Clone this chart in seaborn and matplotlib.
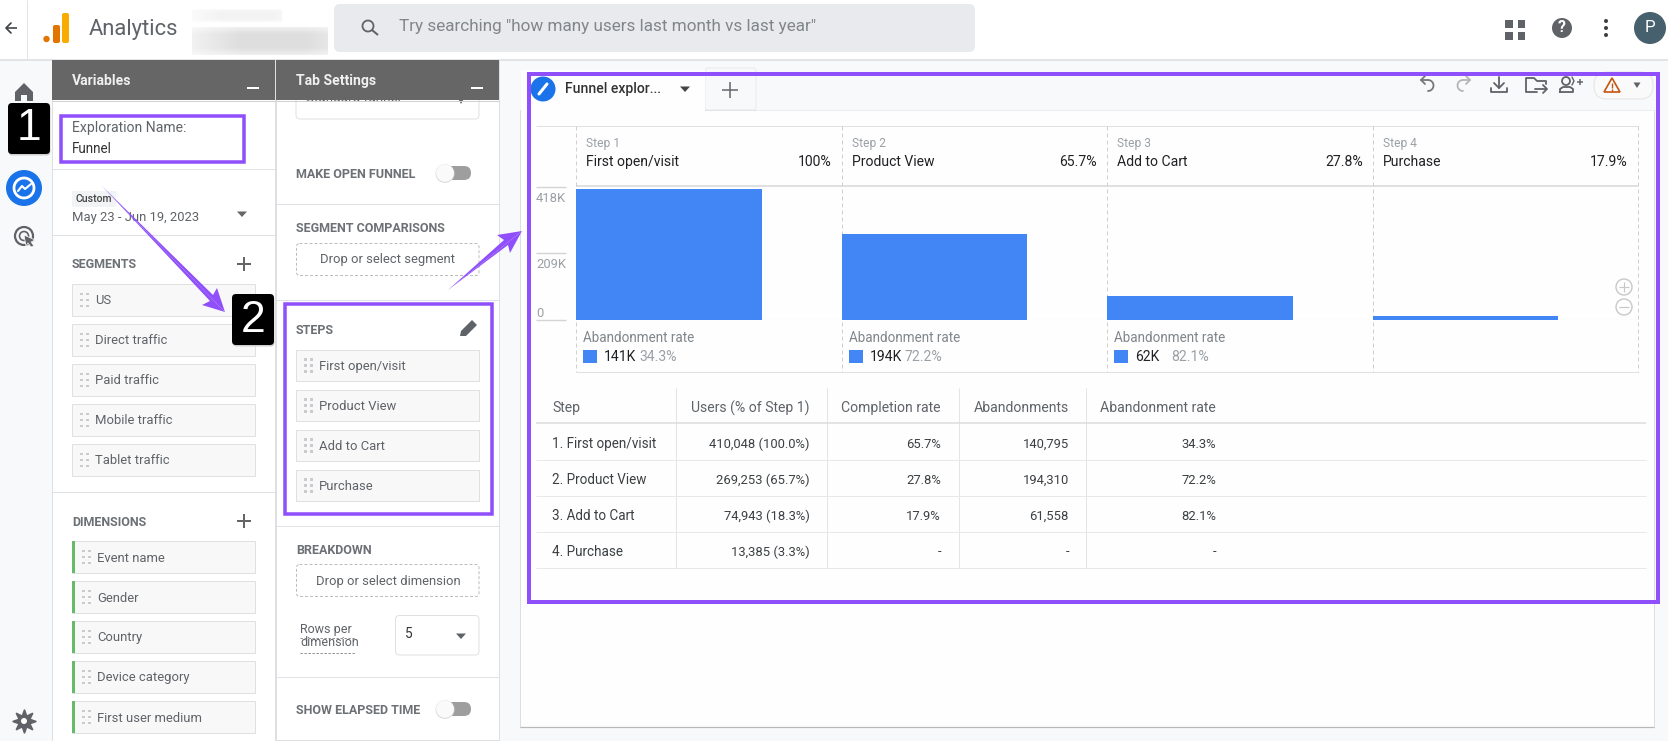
import numpy as np
import pandas as pd
import matplotlib
matplotlib.use('Agg')
import matplotlib.pyplot as plt
from matplotlib.patches import FancyBboxPatch, Circle, Polygon, Rectangle
from matplotlib.transforms import ScaledTranslation
import seaborn as sns

# funnel data
step_ids = ['Step 1', 'Step 2', 'Step 3', 'Step 4']
step_names = ['First open/visit', 'Product View', 'Add to Cart', 'Purchase']
step_users = [410048, 269253, 74943, 13385]
step_pcts = ['100%', '65.7%', '27.8%', '17.9%']
drop_counts = ['141K', '194K', '62K']
drop_rates = ['34.3%', '72.2%', '82.1%']
y_ticks = [0, 209000, 418000]
y_tick_labels = ['0', '209K', '418K']

# table underneath the chart
table_headers = ['Step', 'Users (% of Step 1)', 'Completion rate', 'Abandonments', 'Abandonment rate']
table_steps = ['1. First open/visit', '2. Product View', '3. Add to Cart', '4. Purchase']
table_users = ['410,048 (100.0%)', '269,253 (65.7%)', '74,943 (18.3%)', '13,385 (3.3%)']
table_completion = ['65.7%', '27.8%', '17.9%', '-']
table_abandons = ['140,795', '194,310', '61,558', '-']
table_rates = ['34.3%', '72.2%', '82.1%', '-']

# side panels
segments = ['US', 'Direct traffic', 'Paid traffic', 'Mobile traffic', 'Tablet traffic']
dimensions = ['Event name', 'Gender', 'Country', 'Device category', 'First user medium']

BLUE = '#4285f4'
PURPLE = '#8f4ffb'
LINE = '#e0e2e5'
GREY = '#5f6368'
HEAD = '#6d7175'

sns.set_theme(style='white')
plt.rcParams['font.family'] = ['Roboto', 'DejaVu Sans']

W, H = 1668, 741
fig = plt.figure(figsize=(W / 100, H / 100), dpi=100, facecolor='white')
ui = fig.add_axes([0, 0, 1, 1], zorder=0)
ui.set_xlim(0, W)
ui.set_ylim(H, 0)
ui.axis('off')


def box(x0, y0, x1, y1, fc='none', ec='none', lw=1, r=0, ls='-', z=1):
    if r:
        p = FancyBboxPatch((x0, y0), x1 - x0, y1 - y0, boxstyle=f'round,pad=0,rounding_size={r}',
                           fc=fc, ec=ec, lw=lw * 0.72, ls=ls, zorder=z)
    else:
        p = Rectangle((x0, y0), x1 - x0, y1 - y0, fc=fc, ec=ec, lw=lw * 0.72, ls=ls, zorder=z)
    ui.add_patch(p)


def line(xs, ys, c=LINE, lw=1, ls='-', z=2):
    ui.plot(xs, ys, color=c, lw=lw * 0.72, ls=ls, zorder=z, solid_capstyle='butt')


def txt(x, y, s, size=13, c=GREY, ha='left', weight='normal', z=5):
    ui.text(x, y + 1, s, fontsize=size * 0.72, color=c, ha=ha, va='center', fontweight=weight, zorder=z)


def tri(x, y, c='#666666', s=5, z=5):
    ui.add_patch(Polygon([(x - s, y - 2.5), (x + s, y - 2.5), (x, y + 3)], fc=c, ec='none', zorder=z))


def plus(x, y, c='#666666', s=7, lw=2, z=5):
    line([x - s, x + s], [y, y], c, lw, z=z)
    line([x, x], [y - s, y + s], c, lw, z=z)


def grip(x, y):
    for dx in (0, 6):
        for dy in (-6, 0, 6):
            ui.add_patch(Rectangle((x + dx, y + dy - 1.2), 2.6, 2.6, fc='#c9cbce', ec='none', zorder=4))


def toggle(y):
    box(440, y - 7, 471, y + 7, fc='#9e9e9e', r=7, z=3)
    ui.add_patch(Circle((445, y + 0.5), 9.5, fc='#dddddd', ec='none', zorder=3.5))
    ui.add_patch(Circle((445, y), 8.8, fc='#fafafa', ec='none', zorder=4))


def smudge(x0, y0, x1, y1, peak):
    # soft grey patch for the redacted account name
    yy, xx = np.mgrid[0:1:30j, 0:1:80j]
    img = 1 - (1 - peak) * np.clip(1.4 - abs(xx - 0.6) * 1.6, 0, 1) * np.clip(1.5 - abs(yy - 0.5) * 2, 0, 1)
    ui.imshow(img, extent=(x0, x1, y1, y0), cmap='gray', vmin=0, vmax=1, aspect='auto',
              interpolation='bilinear', zorder=1)


def curl(cx, sign, c):
    # undo / redo glyph
    t = np.linspace(-np.pi / 2, np.pi / 2, 20)
    ui.plot(cx + sign * (1 + 5.5 * np.cos(t)), 85.5 + 5.5 * np.sin(t), color=c, lw=1.3, zorder=3)
    ui.plot([cx - sign * 6, cx + sign], [80, 80], color=c, lw=1.3, zorder=3)
    ui.plot([cx - sign * 2, cx - sign * 6, cx - sign * 2], [76, 80, 84], color=c, lw=1.3, zorder=3)


# backgrounds
box(0, 60, 52, H, fc='#f8f9fa')
box(500, 60, W, H, fc='#f8f9fa')
box(520.5, 110, 1654, 726.5, fc='#fefefe', ec='#dedede', z=1)
line([520, 1654], [727, 727], '#b8b8b8', 1.2, z=1.1)
box(521, 70, 705, 112, fc='#fefefe', z=1.5)
box(705, 68, 756, 110, fc='#f8f9fa', ec='#e8eaed', r=3, z=1.2)
line([756, 1654], [110, 110], '#eceef0', 1, z=1.3)

# top bar
line([0, W], [59.5, 59.5], '#dadce0', 1.5)
line([27.5, 27.5], [0, 59], '#e4e5e7', 1)
line([6, 17], [28, 28], '#3c4043', 1.6)
ui.plot([11, 6, 11], [23, 28, 33], color='#3c4043', lw=1.2, zorder=3)
ui.add_patch(Circle((46.5, 39), 3.2, fc='#e37400', ec='none', zorder=3))
box(53, 25, 60, 43, fc='#e37400', r=2, z=3)
box(62, 13, 69, 43, fc='#f9ab00', r=2, z=3)
txt(89, 28, 'Analytics', 22, GREY)
smudge(192, 9, 282, 22, 0.95)
smudge(192, 27, 328, 55, 0.87)
box(334, 4, 975, 52, fc='#e8eaed', r=6)
ui.add_patch(Circle((368, 26), 5.5, fc='none', ec=GREY, lw=1.3, zorder=3))
line([372, 378], [30, 35], GREY, 2, z=3)
txt(399, 26, 'Try searching "how many users last month vs last year"', 17.1, '#80868b')

for gx in (1505.5, 1518):
    for gy in (20, 32):
        box(gx, gy, gx + 7.5, gy + 7.5, fc='#5f6368', z=3)
ui.add_patch(Circle((1562, 28), 10, fc='#5f6368', ec='none', zorder=3))
txt(1562, 27, '?', 16, 'white', ha='center', weight='bold')
for dy in (-7, 0, 7):
    ui.add_patch(Circle((1606, 28 + dy), 2, fc='#3c4043', ec='none', zorder=3))
ui.add_patch(Circle((1650, 28), 16, fc='#46606e', ec='none', zorder=3))
txt(1650, 27, 'P', 17, 'white', ha='center')

# left rail icons
ui.add_patch(Polygon([(15, 92), (24, 83), (33, 92), (33, 101), (27, 101), (27, 95), (21, 95), (21, 101), (15, 101)],
                     fc='#5f6368', ec='none', zorder=3))
ui.add_patch(Circle((24, 188), 18, fc='#1a73e8', ec='none', zorder=3))
ui.add_patch(Circle((24, 188), 10, fc='none', ec='white', lw=2, zorder=4))
ui.plot([18, 22, 25, 31], [191, 186, 189, 184], color='white', lw=1.5, zorder=4)
ui.add_patch(Circle((24, 236), 9, fc='none', ec=GREY, lw=1.6, zorder=3))
ui.add_patch(Circle((24, 236), 4.5, fc='none', ec=GREY, lw=1.2, zorder=3))
ui.add_patch(Polygon([(24, 235), (35, 240), (31, 242), (34, 246), (31, 247), (28, 243), (26, 246)],
                     fc=GREY, ec='white', lw=0.5, zorder=4))
ui.plot([24], [721], marker=(8, 1, 0), ms=17, color=GREY, zorder=3)
ui.add_patch(Circle((24, 721), 3, fc='white', ec='none', zorder=4))

# panels
box(52, 60, 275.5, H, fc='white', ec='#dddfe2')
box(276, 60, 499.5, H - 1, fc='white', ec='#dddfe2')
for x0, x1, title in [(52, 275, 'Variables'), (276, 499, 'Tab Settings')]:
    box(x0, 60, x1, 100, fc='#666666', z=4)
    line([x0, x1], [100.5, 100.5], '#d0d0d0', 1, z=4)
    txt(x0 + 20, 80, title, 14, '#f0f0f0', weight='bold', z=6)
    line([x1 - 28, x1 - 16], [88, 88], 'white', 2, z=6)

# variables panel
txt(72, 127, 'Exploration Name:', 14)
txt(72, 148, 'Funnel', 13.5, '#333333')
line([52, 275], [169, 169])
box(72, 191, 116, 207, fc='#f1f3f4')
txt(76, 198, 'Custom', 10.5, '#444444', weight='medium')
txt(72, 216, 'May 23 - Jun 19, 2023', 13)
tri(242, 214)
line([52, 275], [235, 235])
txt(72, 264, 'SEGMENTS', 12.5, HEAD, weight='bold')
plus(244, 264)
for i, name in enumerate(segments):
    top = 284 + 40 * i
    box(72.5, top, 255.5, top + 32, fc='#f8f8f8', ec='#e0e0e0')
    grip(80.5, top + 16)
    txt(95, top + 16, name, 13)
line([52, 275], [492, 492])
txt(72, 521, 'DIMENSIONS', 12.5, HEAD, weight='bold')
plus(244, 521)
for i, name in enumerate(dimensions):
    top = 541 + 40 * i
    box(72.5, top, 255.5, top + 32, fc='#f8f8f8', ec='#e0e0e0')
    box(72, top, 75, top + 32, fc='#66bb6a', z=3)
    grip(82.5, top + 16)
    txt(97, top + 16, name, 13)

# tab settings panel
box(296, 84, 479, 119, fc='white', ec='#e0e0e0', r=4, z=1.5)
txt(306, 97, 'Standard funnel', 13.5, z=2)
tri(461, 101, GREY, 3, z=2)
txt(296, 173, 'MAKE OPEN FUNNEL', 12.5, HEAD, weight='bold')
toggle(173)
line([276, 499], [204, 204])
txt(296, 228, 'SEGMENT COMPARISONS', 12.5, HEAD, weight='bold')
box(296.5, 243.5, 479, 275.5, ec='#bdbdbd', ls=(0, (3, 2)), r=3)
txt(388, 259, 'Drop or select segment', 13, ha='center')
line([276, 499], [300, 300])
txt(296, 329, 'STEPS', 12.5, HEAD, weight='bold')
ui.add_patch(Polygon([(460, 336), (461, 331), (472, 320), (477, 325), (466, 336)], fc=GREY, ec='none', zorder=4))
for i, name in enumerate(step_names):
    top = 349.5 + 40 * i
    box(296.5, top, 479, top + 31.5, fc='#f8f8f8', ec='#e0e0e0')
    grip(304.5, top + 16)
    txt(319, top + 16, name, 13)
line([276, 499], [525.5, 525.5])
txt(296, 549, 'BREAKDOWN', 12.5, HEAD, weight='bold')
box(296.5, 564.5, 479, 596.5, ec='#bdbdbd', ls=(0, (3, 2)), r=3)
txt(388, 580, 'Drop or select dimension', 13, ha='center')
txt(300, 628, 'Rows per', 12.5)
txt(300, 642, 'dimension', 12.5)
line([300, 355], [638, 638], '#777777', 0.8, (0, (3, 2)))
line([300, 355], [652.5, 652.5], '#777777', 0.8, (0, (3, 2)))
box(395.5, 615.5, 479, 655, fc='white', ec='#e0e0e0', r=4)
txt(405, 633, '5', 13.5, '#333333')
tri(461, 636, GREY)
line([276, 499], [677, 677])
txt(296, 709, 'SHOW ELAPSED TIME', 12.5, HEAD, weight='bold')
toggle(709)

# exploration tab strip
ui.add_patch(Circle((543, 89), 12.5, fc='#1a73e8', ec='none', zorder=3))
ui.plot([539, 547], [94, 84], color='white', lw=2.2, zorder=4)
txt(565, 88, 'Funnel explor...', 14, '#333333', weight='medium')
tri(685, 89, '#444444')
plus(730, 90, GREY, 8, 1.5)

# toolbar icons, drawn roughly
curl(1427, 1, '#777777')
curl(1464, -1, '#b5b5b5')
tool = '#5f6368'
ui.plot([1499, 1499], [77, 88], color=tool, lw=1.3, zorder=3)
ui.plot([1494, 1499, 1504], [83, 88, 83], color=tool, lw=1.3, zorder=3)
ui.plot([1491, 1491, 1507, 1507], [88, 92, 92, 88], color=tool, lw=1.3, zorder=3)
ui.plot([1546, 1546, 1537, 1534, 1526, 1526, 1537], [84, 81, 81, 78, 78, 92, 92], color=tool, lw=1.3, zorder=3)
ui.plot([1535, 1546], [89, 89], color=tool, lw=1.3, zorder=3)
ui.plot([1543, 1547, 1543], [85, 89, 93], color=tool, lw=1.3, zorder=3)
ui.add_patch(Circle((1566, 81), 4, fc='none', ec=tool, lw=1.3, zorder=3))
ui.plot([1560, 1560, 1563, 1570, 1573, 1573, 1560], [92, 89, 87, 87, 89, 92, 92], color=tool, lw=1.3, zorder=3)
ui.plot([1572, 1574, 1572], [77, 81, 85], color=tool, lw=1, zorder=3)
plus(1580, 82, tool, 3, 1.5)
box(1594, 72, 1653, 99, fc='#fafafa', ec='#e4e4e4', r=13)
ui.add_patch(Polygon([(1604, 92), (1612, 78), (1620, 92)], fc='none', ec='#c5540f', lw=1.2, zorder=4))
line([1612, 1612], [83, 88], '#c5540f', 1.4, z=4)
line([1612, 1612], [89, 91], '#c5540f', 1.4, z=4)
tri(1637, 85, GREY, 3.5)

# chart frame around the bars
frame_x = [576, 842, 1107, 1373, 1638]
line([536, 1638], [126, 126], '#e0e0e0', 1)
line([576, 1638], [186, 186], '#e0e0e0', 2)
line([576, 1638], [372, 372], '#e0e0e0', 1)
for x in frame_x:
    line([x, x], [126, 372], '#d0d0d0', 1, (0, (4, 3)))

for i in range(4):
    left, right = frame_x[i], frame_x[i + 1]
    txt(left + 10, 142, step_ids[i], 12, '#9aa0a6')
    txt(left + 10, 161, step_names[i], 14, '#202124')
    txt(right - 10, 161, step_pcts[i], 14, '#202124', ha='right')
for i in range(3):
    left = frame_x[i]
    txt(left + 7, 337, 'Abandonment rate', 13.5, '#80868b')
    box(left + 7, 349.5, left + 21, 363, fc=BLUE)
    txt(left + 28, 356, drop_counts[i], 14, '#202124')
    rate_x = left + (64 if i == 2 else 63)
    txt(rate_x, 356, drop_rates[i], 14, '#9aa0a6')

# zoom buttons
for cy, sign in [(287, 1), (307, 0)]:
    ui.add_patch(Circle((1624, cy), 8, fc='none', ec='#c8c8c8', lw=1, zorder=3))
    line([1619, 1629], [cy, cy], '#c8c8c8', 1.2, z=3)
    if sign:
        line([1624, 1624], [cy - 5, cy + 5], '#c8c8c8', 1.2, z=3)

# results table
col_lines = [676.5, 827, 959, 1086]
col_right = [810, 941, 1069, 1216]
row_y = [443, 479, 515, 551]
for x in col_lines:
    line([x, x], [388, 568], '#e4e4e4', 1)
line([536, 1646], [423, 423], '#dcdcdc', 1.5)
txt(552, 407, table_headers[0], 14, GREY)
for x, head in zip(col_right, table_headers[1:]):
    txt(x, 407, head, 14, GREY, ha='right')
for i, y in enumerate(row_y):
    line([536, 1646], [y + 17, y + 17], '#e8e8e8', 1)
    txt(552, y, table_steps[i], 13.5, '#3c4043')
    txt(col_right[0], y, table_users[i], 13, '#3c4043', ha='right')
    txt(col_right[1], y, table_completion[i], 13, '#3c4043', ha='right')
    txt(col_right[2], y, table_abandons[i], 13, '#3c4043', ha='right')
    txt(col_right[3], y, table_rates[i], 13, '#3c4043', ha='right')

# purple annotations
box(61.5, 116, 244, 161.5, ec=PURPLE, lw=3.5, z=8)
box(285, 304, 492, 514, ec=PURPLE, lw=3.5, z=8)
box(529, 74, 1658.5, 602, ec=PURPLE, lw=4, z=8)
ui.add_patch(Polygon([(101, 185), (225, 312), (202, 305), (210, 301), (102, 186)], fc=PURPLE, ec='none', zorder=9))
ui.add_patch(Polygon([(101, 185), (225, 312), (217, 288), (213, 295)], fc=PURPLE, ec='none', zorder=9))
ui.add_patch(Polygon([(448, 290), (522, 231), (497, 235), (504, 240)], fc=PURPLE, ec='none', zorder=9))
ui.add_patch(Polygon([(448, 290), (522, 231), (510, 253), (508, 245)], fc=PURPLE, ec='none', zorder=9))
for x0, y0, label in [(8, 103, '1'), (232, 294, '2')]:
    box(x0 + 0.5, y0 + 1.5, x0 + 42.5, y0 + 52.5, fc='#cfcfcf', r=4, z=9.5)
    box(x0, y0, x0 + 42, y0 + 51, fc='black', r=4, z=10)
    ui.text(x0 + 21, y0 + 26, label, fontsize=32, color='white', ha='center', va='center',
            family=['Liberation Sans', 'DejaVu Sans'], zorder=11)

# the funnel bars themselves
funnel = pd.DataFrame({'step': step_names, 'users': step_users})
ax = fig.add_axes([576 / W, 1 - 320 / H, (1638 - 576) / W, (320 - 186.7) / H], zorder=1)
ax.patch.set_visible(False)
sns.barplot(data=funnel, x='step', y='users', color=BLUE, saturation=1, width=0.7, linewidth=0, ax=ax)
ax.set_xlim(-0.35, 3.65)
ax.set_ylim(0, 418000)
ax.set_xlabel('')
ax.set_ylabel('')
ax.set_xticks([])
ax.set_yticks(y_ticks)
ax.set_yticklabels(y_tick_labels, fontsize=13 * 0.72, color='#9aa0a6')
ax.tick_params(axis='y', length=0, pad=28.8)
# labels hang a little below their grid lines, except the zero one which sits above
drop = ScaledTranslation(0, -5 / 100, fig.dpi_scale_trans)
for lab, va in zip(ax.get_yticklabels(), ['bottom', 'top', 'top']):
    lab.set_ha('left')
    lab.set_va(va)
    if va == 'top':
        lab.set_transform(lab.get_transform() + drop)
sns.despine(ax=ax, left=True, bottom=True)
ax.hlines(y_ticks, -40 / 1062, -10 / 1062, transform=ax.get_yaxis_transform(), color='#d4d4d4', lw=1, clip_on=False)
ax.axhline(0, color='#e0e0e0', lw=0.8, zorder=0)

ui.set_xlim(0, W)
ui.set_ylim(H, 0)
fig.savefig('out.png', dpi=100)
